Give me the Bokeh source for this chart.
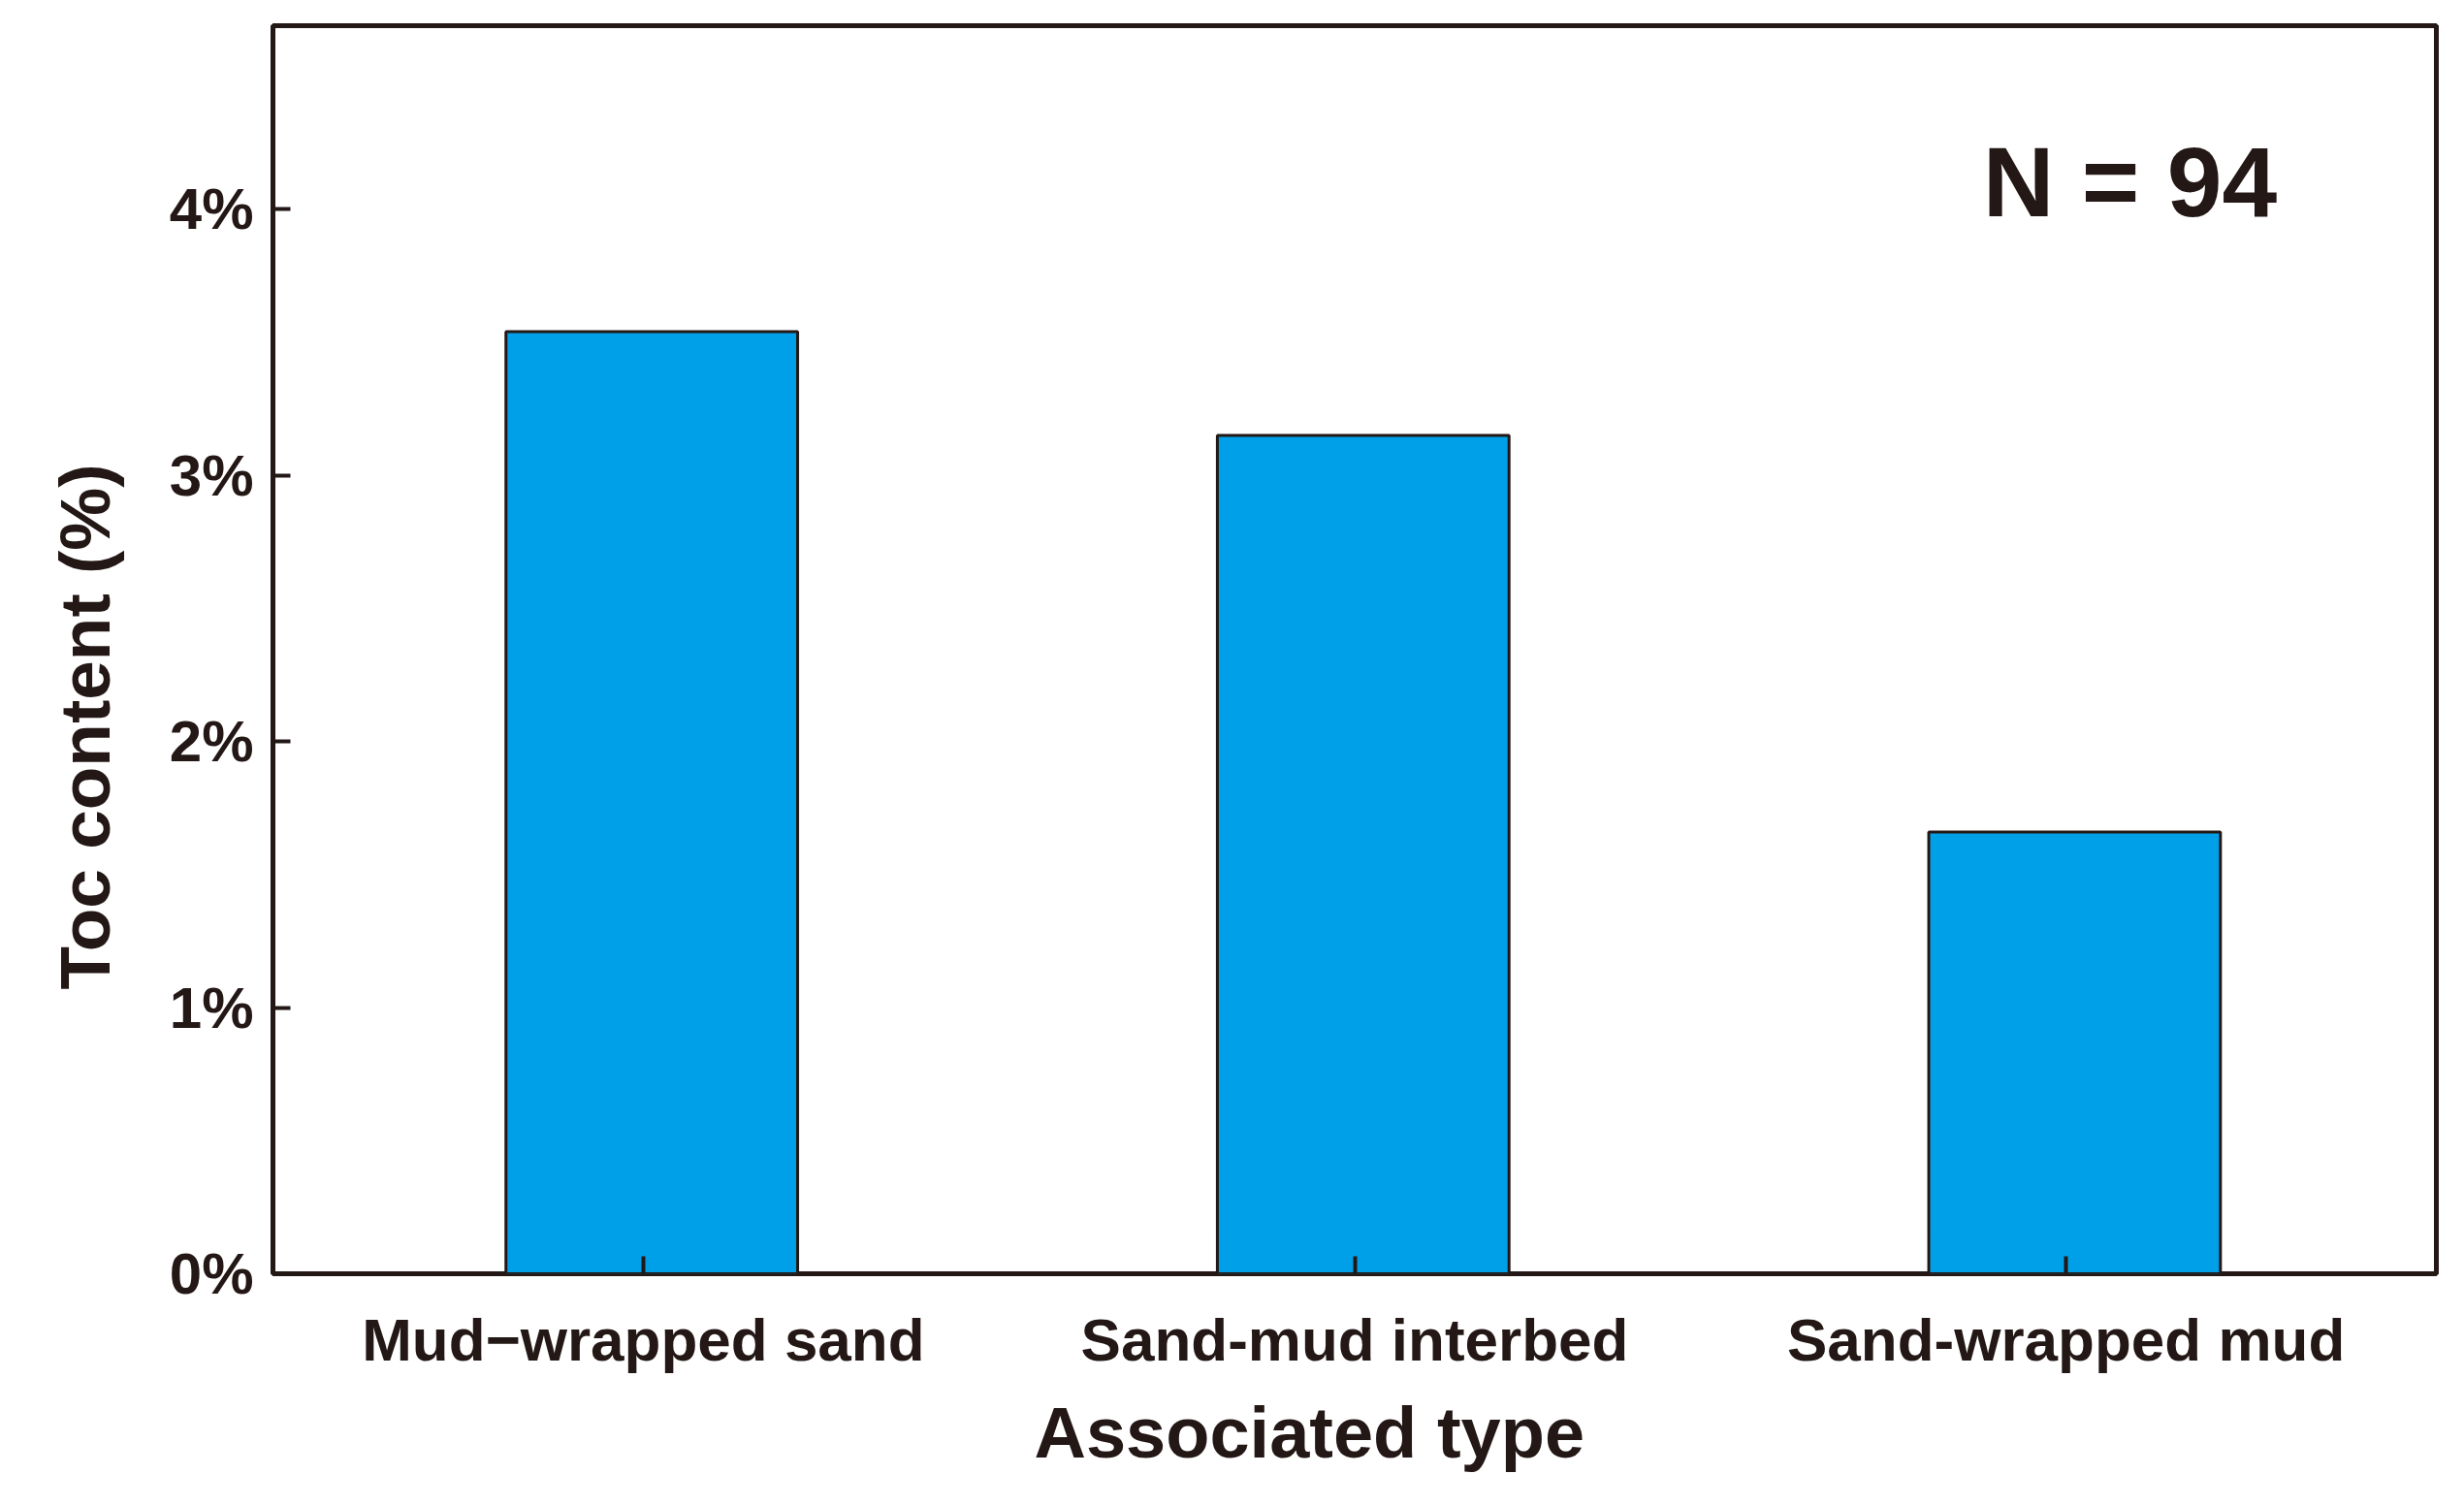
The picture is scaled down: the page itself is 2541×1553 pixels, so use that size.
from bokeh.plotting import figure
from bokeh.models import FactorRange, Range1d, FixedTicker, Label, ColumnDataSource, Title
from bokeh.transform import dodge
from bokeh.embed import file_html
from bokeh.resources import INLINE

# ---- data ----
categories = ["Mud\u2212wrapped sand", "Sand-mud interbed", "Sand-wrapped mud"]
toc_values = [3.54, 3.15, 1.66]
y_ticks = [0, 1, 2, 3, 4]
y_tick_labels = ["0%", "1%", "2%", "3%", "4%"]
x_title = "Associated type"
y_title = "Toc content (%)"
n_text = "N = 94"

INK = "#231815"
FONT = "Liberation Sans"

src = ColumnDataSource(dict(cat=categories, val=toc_values))

p = figure(
    width=2525, height=1537,
    x_range=FactorRange(factors=categories, range_padding=0.0205, range_padding_units="absolute"),
    y_range=Range1d(0, 4.69),
    output_backend="svg", toolbar_location=None,
    min_border_left=280, min_border_right=13, min_border_top=26, min_border_bottom=224,
)
p.background_fill_color = "white"
p.border_fill_color = "white"
p.grid.visible = False
p.outline_line_color = INK
p.outline_line_width = 5

p.vbar(x=dodge("cat", 0.012, range=p.x_range), top="val", bottom=0, width=0.41, source=src,
       fill_color="#00A0E9", line_color=INK, line_width=3)

# axes
for ax in (p.xaxis[0], p.yaxis[0]):
    ax.axis_line_color = None
    ax.major_tick_in = 18
    ax.major_tick_out = 0
    ax.major_tick_line_width = 4
    ax.major_tick_line_color = INK
    ax.minor_tick_line_color = None
    ax.major_label_text_font = FONT
    ax.major_label_text_font_style = "bold"
    ax.major_label_text_color = INK

p.yaxis[0].ticker = FixedTicker(ticks=y_ticks)
p.yaxis[0].major_label_overrides = {t: l for t, l in zip(y_ticks, y_tick_labels)}
p.yaxis[0].major_label_text_font_size = "60px"
p.yaxis[0].major_label_standoff = 20

p.xaxis[0].major_label_text_font_size = "62px"
p.xaxis[0].major_label_standoff = 33

# axis titles as side-panel titles (left-aligned with pixel offsets)
p.add_layout(Title(text=x_title, text_font=FONT, text_font_style="bold", text_font_size="74px",
                   text_color=INK, align="left", offset=785, standoff=30), "below")
p.add_layout(Title(text=y_title, text_font=FONT, text_font_style="bold", text_font_size="73px",
                   text_color=INK, align="left", offset=293, standoff=88), "left")

# annotation inside the frame
p.add_layout(Label(x=2.383, y=4.10, text=n_text, text_font=FONT, text_font_style="bold",
                   text_font_size="102px", text_color=INK, text_align="left", text_baseline="alphabetic"))

open("out.html", "w").write(file_html(p, INLINE))
